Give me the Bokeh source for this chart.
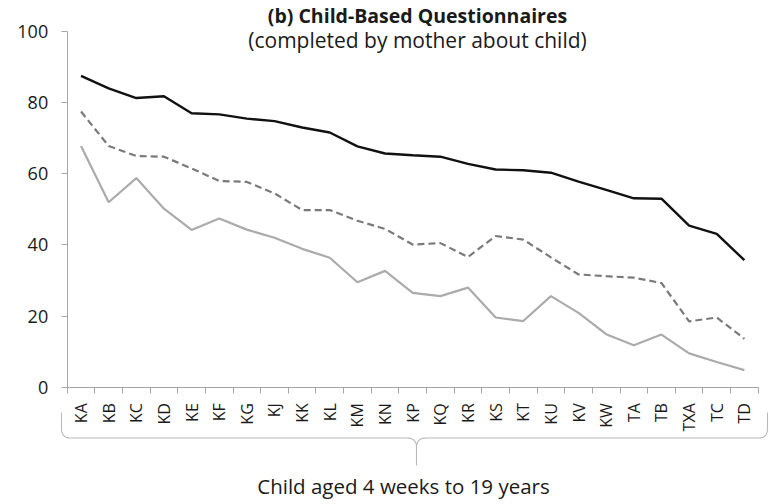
import math
from bokeh.plotting import figure
from bokeh.models import Range1d, FixedTicker, Label
from bokeh.embed import file_html
from bokeh.resources import INLINE

# Questionnaire codes along the x axis
codes = ["KA", "KB", "KC", "KD", "KE", "KF", "KG", "KJ", "KK", "KL", "KM", "KN",
         "KP", "KQ", "KR", "KS", "KT", "KU", "KV", "KW", "TA", "TB", "TXA", "TC", "TD"]

# Percentages for the three series
series_top = [87.5, 84.0, 81.3, 81.8, 77.0, 76.7, 75.5, 74.8, 73.0, 71.6, 67.7, 65.7,
              65.2, 64.8, 62.8, 61.2, 61.0, 60.3, 57.8, 55.5, 53.1, 53.0, 45.4, 43.1, 35.7]
series_mid = [77.5, 67.8, 65.0, 64.8, 61.5, 58.0, 57.7, 54.5, 49.8, 49.8, 46.8, 44.5,
              40.1, 40.5, 36.6, 42.5, 41.5, 36.5, 31.7, 31.2, 30.8, 29.3, 18.5, 19.6, 13.6]
series_low = [67.8, 52.0, 58.8, 50.2, 44.2, 47.4, 44.3, 42.0, 38.9, 36.4, 29.5, 32.7,
              26.5, 25.6, 28.0, 19.6, 18.6, 25.6, 20.9, 14.9, 11.8, 14.8, 9.5, 7.1, 4.8]

y_ticks = [0, 20, 40, 60, 80, 100]

FONT = "Open Sans"
TEXT = "#1a1a1a"
AXIS = "#a6a6a6"

W, H = 772, 504
# canvas pixels of the plotting area corners (axes are pinned inside a full-canvas frame)
PX0, PX1 = 66.7, 757.7     # x of the first and last category boundary
PY0, PY100 = 386.7, 31.0   # y of value 0 and value 100

n = len(codes)
centers = [i + 0.5 for i in range(n)]
sx = (PX1 - PX0) / n
sy = (PY0 - PY100) / 100.0

def dx(px):
    return (px - PX0) / sx

def dy(py):
    return (PY0 - py) / sy

p = figure(width=W, height=H, output_backend="svg", toolbar_location=None,
           x_range=Range1d(dx(0), dx(W)), y_range=Range1d(dy(H), dy(0)),
           min_border_left=0, min_border_right=0, min_border_top=0, min_border_bottom=0)
p.title.visible = False
p.outline_line_color = None
p.xgrid.visible = False
p.ygrid.visible = False
p.background_fill_color = "white"
p.border_fill_color = "white"

p.line(centers, series_top, line_color="#111111", line_width=2.4)
p.line(centers, series_mid, line_color="#7a7a7a", line_width=2.2, line_dash="7 4")
p.line(centers, series_low, line_color="#ababab", line_width=2.2)

# x axis: names at the category centres, tick marks on the boundaries
xa = p.xaxis[0]
xa.fixed_location = 0
xa.bounds = (0, n)
xa.ticker = FixedTicker(ticks=centers, minor_ticks=list(range(n + 1)))
xa.major_label_overrides = {c: name for c, name in zip(centers, codes)}
xa.major_label_orientation = math.pi / 2
xa.major_tick_out = 0
xa.major_tick_in = 0
xa.minor_tick_out = 6
xa.minor_tick_in = 0
xa.minor_tick_line_color = AXIS
xa.axis_line_color = AXIS
xa.major_label_standoff = 10
xa.major_label_text_font = FONT
xa.major_label_text_font_size = "16px"
xa.major_label_text_color = TEXT

ya = p.yaxis[0]
ya.fixed_location = 0
ya.bounds = (0, 100)
ya.ticker = FixedTicker(ticks=y_ticks)
ya.major_tick_out = 6
ya.major_tick_in = 0
ya.minor_tick_out = 0
ya.minor_tick_in = 0
ya.major_tick_line_color = AXIS
ya.axis_line_color = AXIS
ya.major_label_standoff = 13
ya.major_label_text_font = FONT
ya.major_label_text_font_size = "18px"
ya.major_label_text_color = TEXT

p.add_layout(Label(x=dx(417), y=dy(15), text="(b) Child-Based Questionnaires",
                   text_align="center", text_baseline="middle",
                   text_font=FONT, text_font_style="bold", text_font_size="19.5px",
                   text_color=TEXT))
p.add_layout(Label(x=dx(417), y=dy(39), text="(completed by mother about child)",
                   text_align="center", text_baseline="middle",
                   text_font=FONT, text_font_size="21px", text_color=TEXT))
p.add_layout(Label(x=dx(403), y=dy(485), text="Child aged 4 weeks to 19 years",
                   text_align="center", text_baseline="middle",
                   text_font=FONT, text_font_size="20.5px", text_color=TEXT))

# curly brace under the category labels
def quad(p0, c, p1, steps=10):
    pts = []
    for k in range(1, steps + 1):
        t = k / steps
        x = (1 - t) ** 2 * p0[0] + 2 * (1 - t) * t * c[0] + t ** 2 * p1[0]
        y = (1 - t) ** 2 * p0[1] + 2 * (1 - t) * t * c[1] + t ** 2 * p1[1]
        pts.append((x, y))
    return pts

yb, xl, xr, xm = 437.5, 61, 767, 416
left_half = [(xl, 412), (xl, 428)] + quad((xl, 428), (xl, yb), (xl + 9, yb)) + \
            [(xm - 10, yb)] + quad((xm - 10, yb), (xm, yb), (xm, yb + 9)) + [(xm, 465)]
right_half = [(xm, yb + 9)] + quad((xm, yb + 9), (xm, yb), (xm + 10, yb)) + \
             [(xr - 9, yb)] + quad((xr - 9, yb), (xr, yb), (xr, 428)) + [(xr, 412)]

p.multi_line(xs=[[dx(a) for a, _ in path] for path in (left_half, right_half)],
             ys=[[dy(b) for _, b in path] for path in (left_half, right_half)],
             line_color="#b8b8b8", line_width=1.1)

open("out.html", "w").write(file_html(p, INLINE))
